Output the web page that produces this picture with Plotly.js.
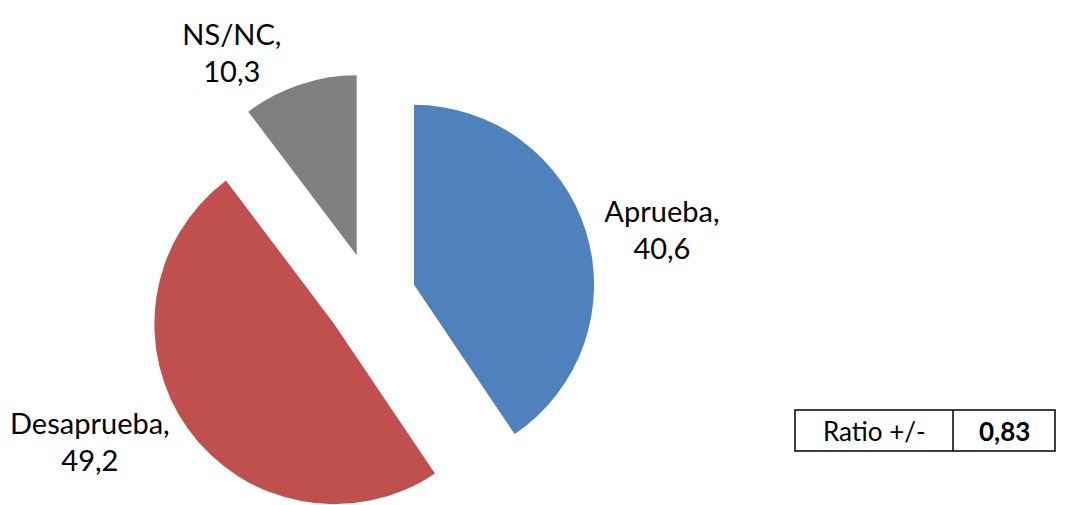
<!DOCTYPE html>
<html>
<head>
<meta charset="utf-8">
<script src="https://cdn.plot.ly/plotly-3.0.1.min.js"></script>
<style>
html,body{margin:0;padding:0;overflow:hidden;background:#fff;}
#chart{width:1067px;height:530px;}
</style>
</head>
<body>
<div id="chart"></div>
<script>
const categories = ["Aprueba", "Desaprueba", "NS/NC"];
const values = [40.6, 49.2, 10.3];
const colors = ["#4F81BD", "#C0504D", "#808080"];
const ratioLabel = "Ratio +/-";

const W = 1067, H = 530;
const fx = px => px / W;
const fy = py => 1 - py / H;

const ratio = (values[0] / values[1]).toFixed(2).replace('.', ',');

const trace = {
  type: 'pie',
  labels: categories,
  values: values,
  sort: false,
  direction: 'clockwise',
  rotation: 0,
  pull: [0.25, 0.25, 0.25],
  marker: {colors: colors, line: {width: 0}},
  textposition: 'outside',
  texttemplate: '%{label},<br>%{value:.1f}',
  outsidetextfont: {family: 'Lato, "Open Sans", sans-serif', size: 29, color: '#000'},
  hoverinfo: 'none',
  showlegend: false,
  domain: {x: [fx(146), fx(596)], y: [fy(523), fy(73)]}
};

const layout = {
  width: W, height: H,
  margin: {l: 0, r: 0, t: 0, b: 0},
  paper_bgcolor: '#fff',
  separators: ',.',
  font: {family: 'Lato, "Open Sans", sans-serif', color: '#000'},
  shapes: [
    {type: 'rect', xref: 'paper', yref: 'paper', x0: fx(795), x1: fx(1055), y0: fy(451), y1: fy(410), line: {color: '#000', width: 1.5}},
    {type: 'line', xref: 'paper', yref: 'paper', x0: fx(953), x1: fx(953), y0: fy(451), y1: fy(410), line: {color: '#000', width: 1.5}}
  ],
  annotations: [
    {xref: 'paper', yref: 'paper', x: fx(874), y: fy(431), text: ratioLabel, showarrow: false, xanchor: 'center', yanchor: 'middle', font: {size: 26, family: 'Lato, sans-serif', color: '#000'}},
    {xref: 'paper', yref: 'paper', x: fx(1004), y: fy(431), text: '<b>' + ratio + '</b>', showarrow: false, xanchor: 'center', yanchor: 'middle', font: {size: 26, family: 'Lato, sans-serif', color: '#000'}}
  ]
};

Plotly.newPlot('chart', [trace], layout, {displayModeBar: false, staticPlot: true});
</script>
</body>
</html>
